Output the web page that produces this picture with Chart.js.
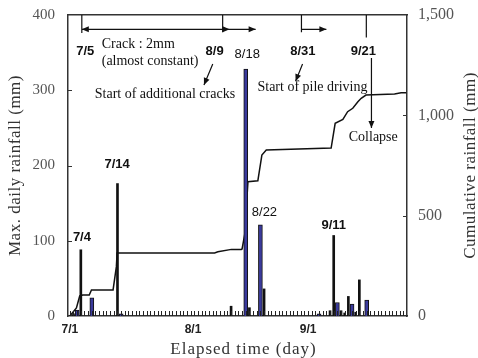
<!DOCTYPE html>
<html>
<head>
<meta charset="utf-8">
<script src="https://cdn.jsdelivr.net/npm/chart.js@4.4.1/dist/chart.umd.min.js"></script>
<style>
  html, body { margin: 0; padding: 0; background: #fff; }
  #wrap { width: 478px; height: 358px; }
</style>
</head>
<body>
<div id="wrap"><canvas id="rain" width="478" height="358"></canvas></div>
<script>
// ---------- Data (day 0 = 7/1) ----------
const X_TICK_DAYS   = [0, 33.6, 65];
const X_TICK_LABELS = ['7/1', '8/1', '9/1'];

// daily rainfall, black bars
const DAYS_BLACK = [1, 3, 13, 44, 49, 53, 71, 72, 74, 75, 76, 78, 79];
const RAIN_BLACK = [3, 88, 176, 13, 11, 36, 7, 107, 7, 4, 26, 5, 48];
// daily rainfall, blue bars
const DAYS_BLUE = [2, 6, 14, 48, 52, 68, 73, 77, 81];
const RAIN_BLUE = [8, 24, 3, 328, 121, 3, 18, 16, 21];

// cumulative rainfall line
const CUM_DAYS = [0, 1.8, 2.7, 3.5, 5.3, 5.9, 11.8, 12.7, 12.9, 39.5, 40.4, 44.1, 46.8, 47.0, 47.7,
                  48.6, 51.3, 52.4, 53.6, 71.3, 72.4, 74.5, 75.8, 77.2, 78.6, 79.5, 80.8, 88.6, 90.4, 91.8];
const CUM_MM   = [0, 40, 100, 105, 105, 130, 130, 246, 314, 314, 320, 332, 332, 334, 404,
                  669, 674, 802, 827, 837, 960, 980, 1018, 1035, 1068, 1085, 1101, 1106, 1113, 1113];

const SERIF = '"Liberation Serif", "Times New Roman", serif';
const SANS  = '"Liberation Sans", Arial, sans-serif';

// ---------- Annotations (day, mm on left axis) ----------
const NOTES = [
  { text: '7/5',  d: 4.2,  v: 351, font: `bold 13px ${SANS}`, align: 'center' },
  { text: '8/9',  d: 39.5, v: 351, font: `bold 13px ${SANS}`, align: 'center' },
  { text: '8/31', d: 63.6, v: 351, font: `bold 13px ${SANS}`, align: 'center' },
  { text: '9/21', d: 80.1, v: 351, font: `bold 13px ${SANS}`, align: 'center' },
  { text: '8/18', d: 48.4, v: 347, font: `13px ${SANS}`, align: 'center' },
  { text: '7/14', d: 12.9, v: 201, font: `bold 13px ${SANS}`, align: 'center' },
  { text: '7/4',  d: 3.3,  v: 104, font: `bold 13px ${SANS}`, align: 'center' },
  { text: '8/22', d: 53.1, v: 137, font: `13px ${SANS}`, align: 'center' },
  { text: '9/11', d: 72.0, v: 121, font: `bold 13px ${SANS}`, align: 'center' },
  { text: 'Crack : 2mm',        d: 8.7,  v: 361, font: `14px ${SERIF}`, align: 'left' },
  { text: '(almost constant)',  d: 8.7,  v: 338, font: `14px ${SERIF}`, align: 'left' },
  { text: 'Start of additional cracks', d: 6.8, v: 295, font: `14px ${SERIF}`, align: 'left' },
  { text: 'Start of pile driving', d: 51.2, v: 304, font: `14px ${SERIF}`, align: 'left' },
  { text: 'Collapse', d: 82.8, v: 238, font: `14px ${SERIF}`, align: 'center' }
];

function arrowHead(ctx, x, y, dir) {
  // dir: angle of the arrow direction in radians
  const len = 7, half = 3;
  ctx.save();
  ctx.translate(x, y);
  ctx.rotate(dir);
  ctx.beginPath();
  ctx.moveTo(0, 0);
  ctx.lineTo(-len, -half);
  ctx.lineTo(-len, half);
  ctx.closePath();
  ctx.fill();
  ctx.restore();
}

const decor = {
  id: 'decor',
  afterDatasetsDraw(chart) {
    const { ctx, chartArea: a, scales } = chart;
    const x = scales.x, y = scales.y, y2 = scales.y2;
    const px = d => x.getPixelForValue(d);
    const py = v => y.getPixelForValue(v);
    ctx.save();

    // inside ticks
    ctx.strokeStyle = '#333';
    ctx.lineWidth = 1;
    ctx.beginPath();
    y.ticks.forEach(t => { if (t.value > 0 && t.value < 400) { const yy = Math.round(py(t.value)) + 0.5; ctx.moveTo(a.left, yy); ctx.lineTo(a.left + 4, yy); } });
    y2.ticks.forEach(t => { if (t.value > 0 && t.value < 1500) { const yy = Math.round(y2.getPixelForValue(t.value)) + 0.5; ctx.moveTo(a.right, yy); ctx.lineTo(a.right - 4, yy); } });
    ctx.stroke();
    // daily minor ticks along the bottom
    ctx.strokeStyle = '#222';
    ctx.beginPath();
    for (let d = 0; d <= 91; d++) {
      const xx = Math.round(px(d)) + 0.5;
      ctx.moveTo(xx, a.bottom); ctx.lineTo(xx, a.bottom - 5);
    }
    ctx.stroke();

    // arrows across the top
    ctx.strokeStyle = '#111';
    ctx.fillStyle = '#111';
    ctx.lineWidth = 1.2;
    const yArr = py(381);
    ctx.beginPath();
    ctx.moveTo(px(3.27), a.top); ctx.lineTo(px(3.27), py(376));
    ctx.moveTo(px(41.7), a.top); ctx.lineTo(px(41.7), py(377));
    ctx.moveTo(px(3.27), yArr); ctx.lineTo(px(50.7), yArr);
    ctx.moveTo(px(63.2), a.top); ctx.lineTo(px(63.2), py(377));
    ctx.moveTo(px(63.2), yArr); ctx.lineTo(px(70.0), yArr);
    ctx.moveTo(px(80.9), a.top); ctx.lineTo(px(80.9), py(370));
    ctx.moveTo(px(82.3), py(343)); ctx.lineTo(px(82.3), py(250));
    ctx.moveTo(px(39.0), py(335)); ctx.lineTo(px(36.6), py(307));
    ctx.moveTo(px(63.5), py(335)); ctx.lineTo(px(61.6), py(312));
    ctx.stroke();
    arrowHead(ctx, px(3.27), yArr, Math.PI);
    arrowHead(ctx, px(43.6), yArr, 0);
    arrowHead(ctx, px(50.7), yArr, 0);
    arrowHead(ctx, px(70.0), yArr, 0);
    arrowHead(ctx, px(82.3), py(250), Math.PI / 2);
    arrowHead(ctx, px(36.6), py(307), Math.atan2(py(307) - py(335), px(36.6) - px(39.0)));
    arrowHead(ctx, px(61.6), py(312), Math.atan2(py(312) - py(335), px(61.6) - px(63.5)));

    // annotation texts
    ctx.textBaseline = 'middle';
    NOTES.forEach(n => {
      ctx.font = n.font;
      ctx.textAlign = n.align;
      ctx.fillStyle = '#111';
      ctx.fillText(n.text, px(n.d), py(n.v));
    });

    // axis titles
    ctx.fillStyle = '#333';
    ctx.textAlign = 'center';
    ctx.font = `17px ${SERIF}`;
    ctx.letterSpacing = '1px';
    ctx.fillText('Elapsed time (day)', (a.left + a.right) / 2 + 6, 350);
    ctx.letterSpacing = '0.5px';
    const cy = (a.top + a.bottom) / 2;
    ctx.save();
    ctx.translate(16, cy);
    ctx.rotate(-Math.PI / 2);
    ctx.fillText('Max. daily rainfall (mm)', 0, 0);
    ctx.restore();
    ctx.save();
    ctx.translate(471, cy);
    ctx.rotate(-Math.PI / 2);
    ctx.fillText('Cumulative rainfall (mm)', 0, 0);
    ctx.restore();
    ctx.letterSpacing = '0px';

    ctx.restore();
  }
};

const toPoints = (xs, ys) => xs.map((d, i) => ({ x: d, y: ys[i] }));
const fixedWidth = w => (scale) => { scale.width = w; scale.paddingTop = 0; scale.paddingBottom = 0; };
const fixedHeight = h => (scale) => { scale.height = h; scale.paddingLeft = 0; scale.paddingRight = 0; };
const border = { display: true, color: '#333', width: 1.5 };

new Chart(document.getElementById('rain'), {
  type: 'bar',
  data: {
    datasets: [
      { label: 'Daily', data: toPoints(DAYS_BLACK, RAIN_BLACK), backgroundColor: '#111',
        barThickness: 2, grouped: false, yAxisID: 'y', order: 1 },
      { label: 'Daily (blue)', data: toPoints(DAYS_BLUE, RAIN_BLUE), backgroundColor: '#3a3a9c',
        borderColor: '#111', borderWidth: 1, barThickness: 4, grouped: false, yAxisID: 'y', order: 1 },
      { type: 'line', label: 'Cumulative', data: toPoints(CUM_DAYS, CUM_MM), borderColor: '#111',
        borderWidth: 1.5, pointRadius: 0, tension: 0, fill: false, yAxisID: 'y2', order: 2 }
    ]
  },
  options: {
    responsive: false,
    animation: false,
    layout: { padding: 0 },
    plugins: { legend: { display: false }, tooltip: { enabled: false } },
    scales: {
      x: {
        type: 'linear', position: 'bottom', min: -0.5, max: 92, offset: false,
        afterBuildTicks: s => { s.ticks = X_TICK_DAYS.map(v => ({ value: v })); },
        afterFit: fixedHeight(42),
        grid: { display: false, drawTicks: false },
        border,
        ticks: { autoSkip: false, maxRotation: 0, padding: 6, color: '#222',
                 font: { family: SANS, size: 12, weight: 'bold' },
                 callback: (v, i) => X_TICK_LABELS[i] }
      },
      xTop: {
        type: 'linear', position: 'top', min: -0.5, max: 92, offset: false,
        afterFit: fixedHeight(15),
        grid: { display: false, drawTicks: false }, border,
        ticks: { display: false }
      },
      y: {
        position: 'left', min: 0, max: 400,
        afterFit: fixedWidth(68),
        grid: { display: false, drawTicks: false }, border,
        ticks: { stepSize: 100, padding: 13, color: '#555', font: { family: SERIF, size: 15 } }
      },
      y2: {
        position: 'right', min: 0, max: 1500,
        afterFit: fixedWidth(71),
        grid: { display: false, drawTicks: false }, border,
        ticks: { stepSize: 500, padding: 11, color: '#555', font: { family: SERIF, size: 16 },
                 callback: v => v.toLocaleString('en-US') }
      }
    }
  },
  plugins: [decor]
});
</script>
</body>
</html>
